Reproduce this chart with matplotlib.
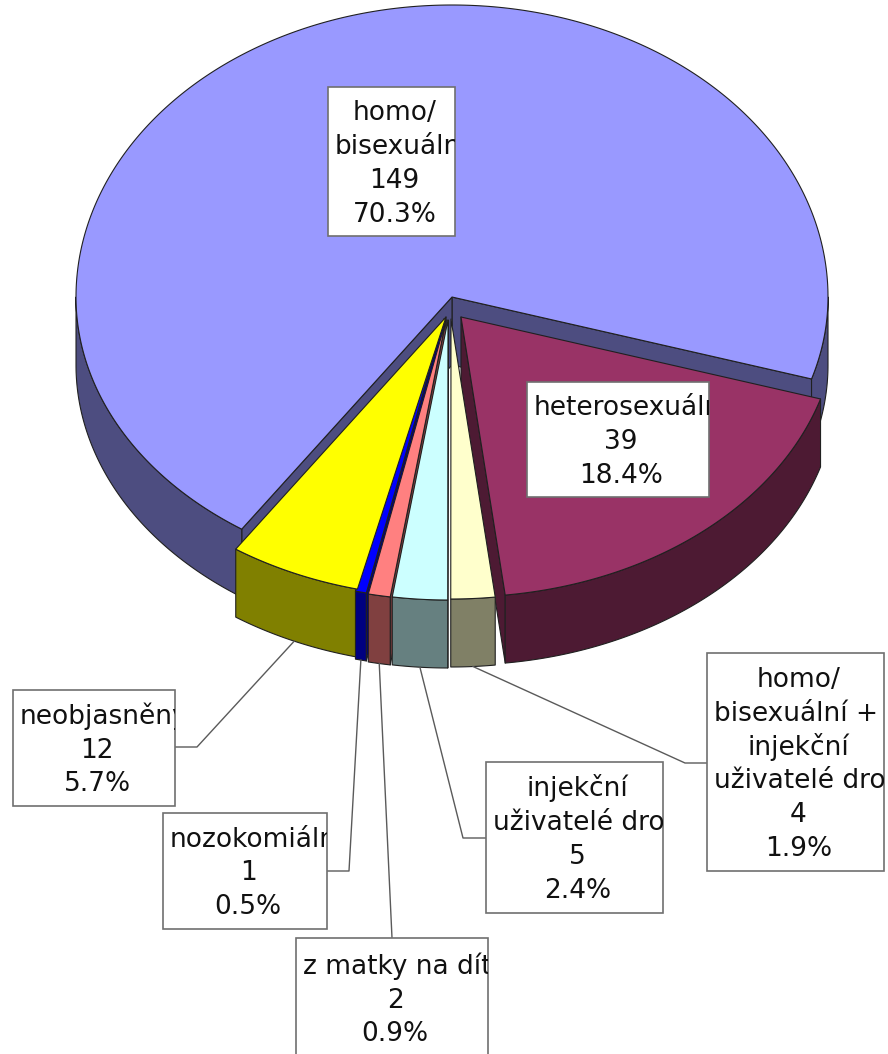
import numpy as np
import matplotlib
matplotlib.use("Agg")
import matplotlib.pyplot as plt
from matplotlib.patches import Polygon, Rectangle
from matplotlib.colors import to_rgb

# data
labels = ["homo/\nbisexuální", "heterosexuální",
          "homo/\nbisexuální +\ninjekční\nuživatelé drog",
          "injekční\nuživatelé drog", "z matky na dítě",
          "nozokomiální", "neobjasněný"]
values = [149, 39, 4, 5, 2, 1, 12]
colors = ["#9999ff", "#993366", "#ffffcc", "#ccffff", "#ff8080", "#0000ff", "#ffff00"]

# exploded slice shift (pixels)
shift = [(1, -16), (10, 4), (0, 6), (-3, 7), (-5, 7), (-7, 6), (-5, 4)]

# label boxes (x0, y0, x1, y1) in pixels, leader elbow / attach points
boxes = [(328, 87, 455, 236), (527, 382, 709, 497), (707, 653, 884, 871),
         (486, 762, 663, 913), (296, 938, 488, 1058), (163, 813, 327, 929),
         (13, 690, 175, 806)]
elbows = [None, None, (685, 763), (463, 838), (392, 938), (349, 871), (197, 747)]
attach = [None, None, (707, 763), (486, 838), (392, 938), (327, 871), (175, 747)]

# pie geometry (pixels); far half drawn a bit taller than near half
CX, CY, RX, RY_FAR, RY_NEAR, DEPTH = 451, 313, 376, 292, 280, 68
START = 236
FS = 19.0
LS = 33.8
PAD = 7

fig = plt.figure(figsize=(8.88, 10.54), dpi=100)
ax = fig.add_axes([0, 0, 1, 1])
ax.set_xlim(0, 888)
ax.set_ylim(1054, 0)
ax.axis("off")

total = sum(values)
fracs = np.array(values) / total
ends = START - 360 * np.cumsum(fracs)
starts = np.r_[START, ends[:-1]]
mids = (starts + ends) / 2


def pt(a, off, down=0.0):
    t = np.radians(a)
    s = np.sin(t)
    ry = RY_FAR if s > 0 else RY_NEAR
    return (CX + off[0] + RX * np.cos(t), CY + off[1] - ry * s + down)


def arc(a1, a2, off, down=0.0):
    n = max(2, int(abs(a2 - a1) * 2))
    return [pt(a, off, down=down) for a in np.linspace(a1, a2, n)]


radial, outer, tops = [], [], []
for i in range(len(values)):
    a1, a2 = ends[i], starts[i]
    off = shift[i]
    top_c = to_rgb(colors[i])
    side_c = tuple(c * 0.5 for c in top_c)
    apex = (CX + off[0], CY + off[1])
    tops.append(([apex] + arc(a1, a2, off), top_c))
    for a, vis in ((a2, np.cos(np.radians(a2)) < 0), (a1, np.cos(np.radians(a1)) > 0)):
        if vis:
            rim = pt(a, off)
            poly = [apex, rim, (rim[0], rim[1] + DEPTH), (apex[0], apex[1] + DEPTH)]
            radial.append((poly, side_c))
    for k in (-1, 0, 1):
        lo = max(a1, 180 + 360 * k)
        hi = min(a2, 360 + 360 * k)
        if hi > lo:
            poly = arc(lo, hi, off) + arc(lo, hi, off, DEPTH)[::-1]
            outer.append((poly, side_c))

for group in (radial, outer, tops):
    for poly, c in sorted(group, key=lambda p: np.mean([q[1] for q in p[0]])):
        ax.add_patch(Polygon(poly, closed=True, facecolor=c, edgecolor="#202020",
                             linewidth=0.8, joinstyle="round"))

# leader lines
for i in range(len(values)):
    if elbows[i] is None:
        continue
    rx_, ry_ = pt(mids[i], shift[i], down=DEPTH)
    ex, ey = elbows[i]
    bx, by = attach[i]
    ax.plot([rx_, ex, bx], [ry_, ey, by], color="#5a5a5a", lw=1.0, zorder=5)

# label boxes, text clipped to its box like the original chart
fig.canvas.draw()
renderer = fig.canvas.get_renderer()
for i, (x0, y0, x1, y1) in enumerate(boxes):
    rect = Rectangle((x0, y0), x1 - x0, y1 - y0, facecolor="white",
                     edgecolor="#707070", linewidth=1.2, zorder=6)
    ax.add_patch(rect)
    text = labels[i] + "\n" + str(values[i]) + "\n" + f"{values[i] / total * 100:.1f}%"
    lines = text.split("\n")
    n = len(lines)
    cy = (y0 + y1) / 2
    cx = (x0 + x1) / 2 + 3
    for j, line in enumerate(lines):
        yb = cy + (j - (n - 1) / 2) * LS + 9.5
        t = ax.text(cx, yb, line, ha="center", va="baseline", fontsize=FS,
                    family="DejaVu Sans", color="#111111", zorder=7)
        w = t.get_window_extent(renderer).width
        if w > (x1 - x0) - 2 * PAD:
            t.set_x(x0 + PAD)
            t.set_ha("left")
        t.set_clip_path(rect)
        t.set_clip_on(True)

fig.savefig("out.png", dpi=100, facecolor="white")
